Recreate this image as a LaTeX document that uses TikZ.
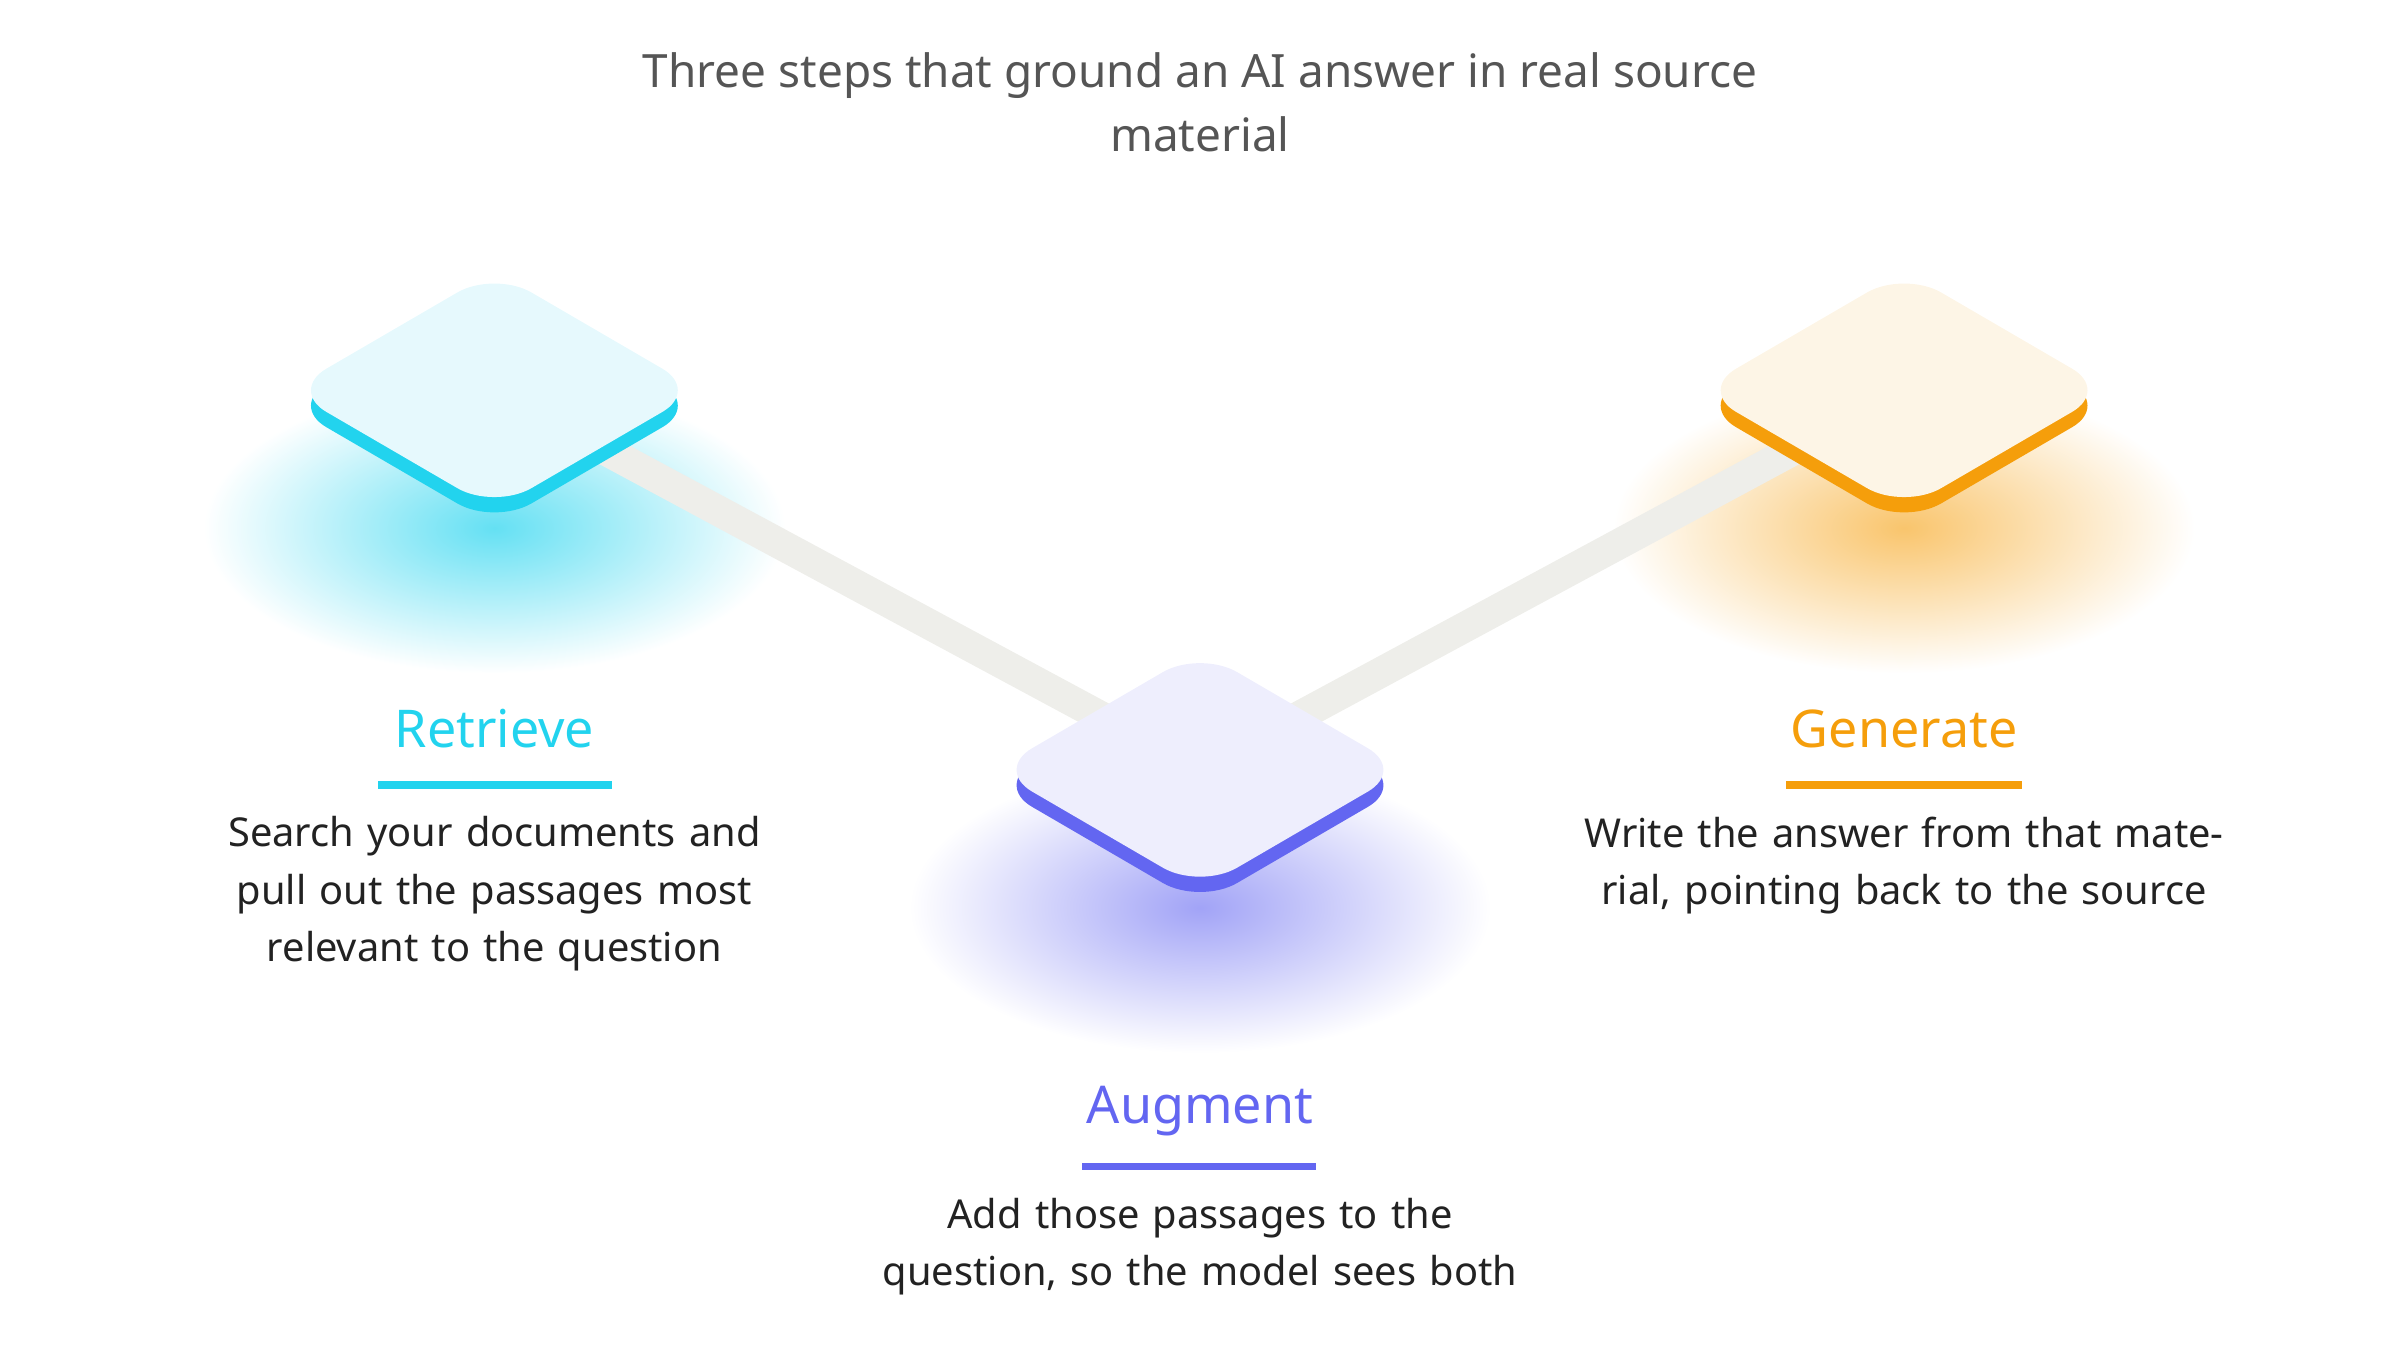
\documentclass[tikz,border=0pt]{standalone}
\usepackage{fontspec}
\setmainfont{Noto Sans}
\definecolor{cR}{HTML}{22D3EE}
\definecolor{cA}{HTML}{6366F1}
\definecolor{cG}{HTML}{F59E0B}
\definecolor{fR}{HTML}{E6F9FD}
\definecolor{fA}{HTML}{EEEEFD}
\definecolor{fG}{HTML}{FDF5E6}
\definecolor{txt}{HTML}{222222}
\definecolor{ttl}{HTML}{555555}
\definecolor{conn}{HTML}{EEEEEA}
\tikzset{
  heading/.style={font=\fontsize{34}{40}\selectfont\bfseries},
  desc/.style={font=\fontsize{26}{37.5}\selectfont, text=txt, align=center, text width=420pt, anchor=north},
  conline/.style={line width=20pt, conn},
}
\newcommand{\diam}[3]{%
  \fill[#2, rounded corners=28pt] ([yshift=-10pt]#1.center) ++(-134,0) -- ++(134,-78) -- ++(134,78) -- ++(-134,78) -- cycle;
  \fill[#3, rounded corners=28pt] (#1.center) ++(-134,0) -- ++(134,-78) -- ++(134,78) -- ++(-134,78) -- cycle;
}
\begin{document}
\begin{tikzpicture}[x=1pt,y=-1pt]
\useasboundingbox (0,0) rectangle (1568,882);
\node[font=\fontsize{30}{42}\selectfont, text=ttl, align=center] (title) at (784,67) {Three steps that ground an AI answer in real source\\material};
\coordinate (r) at (323,255);
\coordinate (a) at (784,503);
\coordinate (g) at (1244,255);
% glows
\shade[inner color=cR!70, outer color=white] (323,345) ellipse (190 and 95);
\shade[inner color=cA!60, outer color=white] (784,593) ellipse (190 and 95);
\shade[inner color=cG!60, outer color=white] (1244,345) ellipse (190 and 95);
% connectors
\draw[conline] (r) -- (a);
\draw[conline] (a) -- (g);
\diam{r}{cR}{fR}
\diam{a}{cA}{fA}
\diam{g}{cG}{fG}
% labels
\node[heading, text=cR] (rt) at (323,476) {Retrieve};
\draw[cR, line width=5pt] (247,513) -- (400,513);
\node[desc] (rd) at (323,530) {Search your documents and pull out the passages most relevant to the question};
\node[heading, text=cA] (at) at (784,726) {Augment};
\draw[cA, line width=5pt] (707,762) -- (860,762);
\node[desc] (ad) at (784,779) {Add those passages to the question, so the model sees both};
\node[heading, text=cG] (gt) at (1244,476) {Generate};
\draw[cG, line width=5pt] (1167,513) -- (1321,513);
\node[desc] (gd) at (1244,530) {Write the answer from that material, pointing back to the source};
\end{tikzpicture}
\end{document}
